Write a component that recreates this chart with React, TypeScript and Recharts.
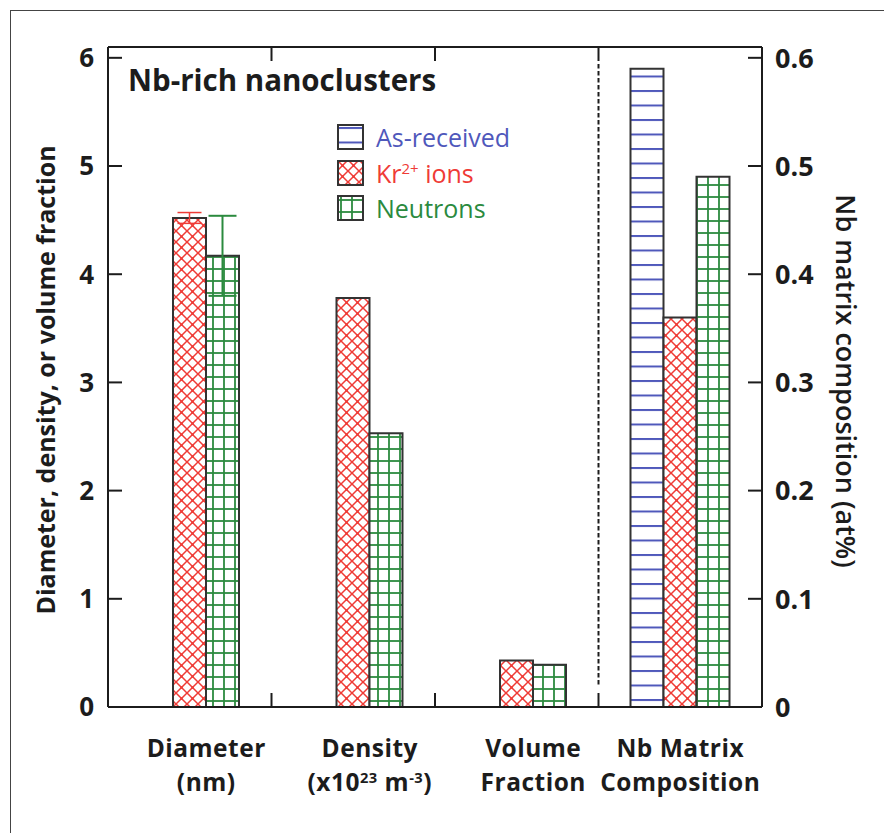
import React from "react";
import { BarChart, Bar, XAxis, YAxis, ErrorBar, ReferenceLine } from "recharts";

// categories (two lines each) and series values
const CATEGORIES = ["Diameter", "Density", "Volume", "Nb Matrix"];
const CATEGORY_SUBLABELS = ["(nm)", "(x10^{23} m^{-3})", "Fraction", "Composition"];

// left axis: diameter, density, volume fraction
const KR_LEFT = [4.52, 3.78, 0.43, null];
const KR_LEFT_ERR = [0.05, null, null, null];
const NEUTRONS_LEFT = [4.17, 2.53, 0.39, null];
const NEUTRONS_LEFT_ERR = [0.37, null, null, null];

// right axis: Nb matrix composition (at%)
const AS_RECEIVED_RIGHT = [null, null, null, 0.59];
const KR_RIGHT = [null, null, null, 0.36];
const NEUTRONS_RIGHT = [null, null, null, 0.49];

const LEFT_TICKS = [0, 1, 2, 3, 4, 5, 6];
const RIGHT_TICKS = [0, 0.1, 0.2, 0.3, 0.4, 0.5, 0.6];
// the frame sits a little above the top tick
const LEFT_MAX = 6.1;
const RIGHT_MAX = 0.61;

const SERIES_NAMES = ["As-received", "Kr^{2+} ions", "Neutrons"];

const data = CATEGORIES.map((category, i) => ({
  category,
  asReceived: AS_RECEIVED_RIGHT[i],
  krLeft: KR_LEFT[i],
  krLeftErr: KR_LEFT_ERR[i],
  krRight: KR_RIGHT[i],
  neutronsLeft: NEUTRONS_LEFT[i],
  neutronsLeftErr: NEUTRONS_LEFT_ERR[i],
  neutronsRight: NEUTRONS_RIGHT[i],
}));

const W = 884;
const H = 833;
const PLOT_LEFT = 108;
const PLOT_RIGHT = 762;
const PLOT_TOP = 47;
const PLOT_BOTTOM = 707;
const BAND = (PLOT_RIGHT - PLOT_LEFT) / CATEGORIES.length;
const BAR = 33;
const TICK = 14;

const FONT = "'Open Sans', 'DejaVu Sans', sans-serif";
const INK = "#1c1c1c";
const BLUE = "#4f58bb";
const RED = "#ef3b36";
const GREEN = "#2b8a3e";
const SERIES_COLORS = [BLUE, RED, GREEN];
const PATTERNS = ["url(#patBlue)", "url(#patRed)", "url(#patGreen)"];

// "x10^{23}" -> svg tspans with superscripts
function svgRich(s: string, size: number) {
  const parts = s.split(/\^\{([^}]*)\}/);
  const shift = size * 0.34;
  return parts.map((p, i) =>
    i % 2 === 1 ? (
      <tspan key={i} fontSize={size * 0.6} dy={-shift}>
        {p}
      </tspan>
    ) : (
      <tspan key={i} dy={i > 0 ? shift : 0}>
        {p}
      </tspan>
    )
  );
}

function htmlRich(s: string) {
  const parts = s.split(/\^\{([^}]*)\}/);
  return parts.map((p, i) =>
    i % 2 === 1 ? (
      <sup key={i} style={{ fontSize: "0.6em", verticalAlign: "0.6em", lineHeight: 0 }}>
        {p}
      </sup>
    ) : (
      <span key={i}>{p}</span>
    )
  );
}

function LeftTick({ y, payload }: any) {
  return (
    <g>
      <line x1={PLOT_LEFT} x2={PLOT_LEFT + TICK} y1={y} y2={y} stroke={INK} strokeWidth={2} />
      <text x={94} y={y} dy="0.36em" textAnchor="end" fontSize={26} fontWeight={700} fill={INK} fontFamily={FONT}>
        {payload.value}
      </text>
    </g>
  );
}

function RightTick({ y, payload }: any) {
  return (
    <g>
      <line x1={PLOT_RIGHT - TICK} x2={PLOT_RIGHT} y1={y} y2={y} stroke={INK} strokeWidth={2} />
      <text x={775} y={y} dy="0.36em" textAnchor="start" fontSize={27} fontWeight={700} fill={INK} fontFamily={FONT}>
        {payload.value}
      </text>
    </g>
  );
}

function CategoryTick({ x, payload, index }: any) {
  const bx = x + BAND / 2;
  const last = index === CATEGORIES.length - 1;
  // labels sit under the bars actually drawn (no as-received bar -> shift half a bar)
  const lx = AS_RECEIVED_RIGHT[index] == null ? x + BAR / 2 : x;
  const textProps = {
    textAnchor: "middle" as const,
    fontSize: 24.5,
    fontWeight: 700,
    letterSpacing: 0.5,
    fill: INK,
    fontFamily: FONT,
  };
  return (
    <g>
      {!last && (
        <>
          <line x1={bx} x2={bx} y1={PLOT_BOTTOM} y2={PLOT_BOTTOM - TICK} stroke={INK} strokeWidth={2} />
          <line x1={bx} x2={bx} y1={PLOT_TOP} y2={PLOT_TOP + TICK} stroke={INK} strokeWidth={2} />
        </>
      )}
      {index === CATEGORIES.length - 2 && (
        <line
          x1={bx}
          x2={bx}
          y1={PLOT_TOP + TICK + 3}
          y2={PLOT_BOTTOM - TICK - 6}
          stroke={INK}
          strokeWidth={2}
          strokeDasharray="4.5 2.5"
        />
      )}
      <text x={lx} y={757} {...textProps}>
        {payload.value}
      </text>
      <text x={lx} y={791} {...textProps}>
        {svgRich(CATEGORY_SUBLABELS[index], 24.5)}
      </text>
    </g>
  );
}

function Patterns() {
  return (
    <svg width={0} height={0} style={{ position: "absolute" }}>
      <defs>
        <pattern id="patBlue" width={10} height={14.5} patternUnits="userSpaceOnUse" y={3}>
          <rect width={10} height={14.5} fill="#fff" />
          <line x1={0} x2={10} y1={1} y2={1} stroke={BLUE} strokeWidth={2} />
        </pattern>
        <pattern id="patRed" width={11} height={11} patternUnits="userSpaceOnUse">
          <rect width={11} height={11} fill="#fff" />
          <path d="M0,0 L11,11 M11,0 L0,11 M-1,10 L1,12 M10,-1 L12,1" stroke={RED} strokeWidth={1.5} fill="none" />
          <circle cx={5.5} cy={5.5} r={1.2} fill={RED} />
        </pattern>
        <pattern id="patGreen" width={11} height={12} patternUnits="userSpaceOnUse" x={3} y={4}>
          <rect width={11} height={12} fill="#fff" />
          <line x1={1} x2={1} y1={0} y2={12} stroke={GREEN} strokeWidth={1.8} />
          <line x1={0} x2={11} y1={1} y2={1} stroke={GREEN} strokeWidth={1.8} />
        </pattern>
      </defs>
    </svg>
  );
}

function LegendBox() {
  return (
    <div style={{ position: "absolute", left: 337, top: 124, fontFamily: FONT }}>
      {SERIES_NAMES.map((name, i) => (
        <div key={name} style={{ display: "flex", alignItems: "center", height: 26, marginBottom: 9.5 }}>
          <svg width={27} height={26}>
            <rect x={1} y={1} width={25} height={24} fill={PATTERNS[i]} stroke="#333" strokeWidth={2} />
          </svg>
          <span style={{ marginLeft: 12, color: SERIES_COLORS[i], fontSize: 25, lineHeight: "26px", whiteSpace: "nowrap" }}>
            {htmlRich(name)}
          </span>
        </div>
      ))}
    </div>
  );
}

export default function App() {
  return (
    <div style={{ position: "absolute", left: 0, top: 0, width: W, height: H, background: "#fff" }}>
      <Patterns />
      <div
        style={{
          position: "absolute",
          left: 10,
          top: 10,
          right: 0,
          bottom: 0,
          borderLeft: "1.5px solid #444",
          borderTop: "1.5px solid #444",
        }}
      />
      <div style={{ position: "absolute", left: 0, top: 0 }}>
        <BarChart
          width={W}
          height={H}
          data={data}
          margin={{ top: PLOT_TOP, right: 62, bottom: 46, left: 48 }}
          barSize={BAR}
          barGap={0}
        >
          <XAxis
            dataKey="category"
            interval={0}
            height={80}
            tick={<CategoryTick />}
            tickLine={false}
            axisLine={{ stroke: INK, strokeWidth: 2 }}
          />
          <YAxis
            yAxisId="left"
            width={60}
            domain={[0, LEFT_MAX]}
            ticks={LEFT_TICKS}
            tick={<LeftTick />}
            tickLine={false}
            axisLine={{ stroke: INK, strokeWidth: 2 }}
            label={{
              content: () => (
                <text
                  transform="translate(45, 380) rotate(-90)"
                  textAnchor="middle"
                  dominantBaseline="central"
                  fontSize={25}
                  fontWeight={700}
                  fill={INK}
                  fontFamily={FONT}
                >
                  Diameter, density, or volume fraction
                </text>
              ),
            }}
          />
          <YAxis
            yAxisId="right"
            orientation="right"
            width={60}
            domain={[0, RIGHT_MAX]}
            ticks={RIGHT_TICKS}
            tick={<RightTick />}
            tickLine={false}
            axisLine={{ stroke: INK, strokeWidth: 2 }}
            label={{
              content: () => (
                <text
                  transform="translate(846, 381) rotate(90)"
                  textAnchor="middle"
                  dominantBaseline="central"
                  fontSize={27}
                  fontWeight={600}
                  fill={INK}
                  fontFamily={FONT}
                >
                  Nb matrix composition (at%)
                </text>
              ),
            }}
          />
          <ReferenceLine yAxisId="left" y={LEFT_MAX} stroke={INK} strokeWidth={2} />

          <Bar yAxisId="right" dataKey="asReceived" stackId="as" fill={PATTERNS[0]} stroke="#333" strokeWidth={2} isAnimationActive={false} />
          <Bar yAxisId="left" dataKey="krLeft" stackId="kr" fill={PATTERNS[1]} stroke="#333" strokeWidth={2} isAnimationActive={false}>
            <ErrorBar dataKey="krLeftErr" width={12} stroke={RED} strokeWidth={1.5} />
          </Bar>
          <Bar yAxisId="right" dataKey="krRight" stackId="kr" fill={PATTERNS[1]} stroke="#333" strokeWidth={2} isAnimationActive={false} />
          <Bar yAxisId="left" dataKey="neutronsLeft" stackId="neu" fill={PATTERNS[2]} stroke="#333" strokeWidth={2} isAnimationActive={false}>
            <ErrorBar dataKey="neutronsLeftErr" width={14} stroke={GREEN} strokeWidth={2} />
          </Bar>
          <Bar yAxisId="right" dataKey="neutronsRight" stackId="neu" fill={PATTERNS[2]} stroke="#333" strokeWidth={2} isAnimationActive={false} />
        </BarChart>
      </div>
      <div
        style={{
          position: "absolute",
          left: 128,
          top: 62,
          fontFamily: FONT,
          fontSize: 29.5,
          fontWeight: 700,
          color: INK,
          lineHeight: "36px",
          whiteSpace: "nowrap",
        }}
      >
        Nb-rich nanoclusters
      </div>
      <LegendBox />
    </div>
  );
}
